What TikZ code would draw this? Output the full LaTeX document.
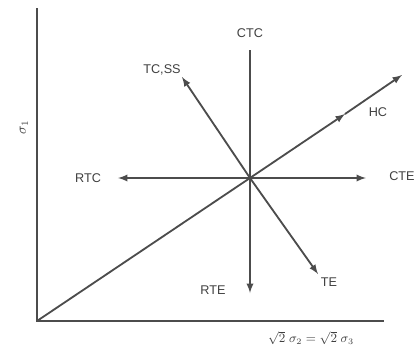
\documentclass[tikz,border=0pt]{standalone}
\usepackage{fontspec}
\setsansfont{Liberation Sans}
\usetikzlibrary{positioning}
\begin{document}
\begin{tikzpicture}[x=0.025cm, y=-0.025cm, >=latex,
    path/.style={draw=black!70, line width=1.3pt},
    lab/.style={font=\sffamily\small, text=black!75, inner sep=1pt}]
            \useasboundingbox (0,0) rectangle (417,350);
            % axes
            \coordinate (O) at (37,321);
            \coordinate (T) at (37,8);
            \coordinate (R) at (384,321);
            \draw[path] (T) -- (O) -- (R);
            \node[lab, font=\normalsize, rotate=90] (s1) at (24,127) {$\sigma_1$};
            \node[lab] (s23) at (311,338) {$\sqrt{2}\;\sigma_2 = \sqrt{2}\;\sigma_3$};

            % stress paths from the centre
            \coordinate (C) at (250,178);
            \coordinate (ctc) at (250,50);
            \coordinate (rte) at (250,293);
            \coordinate (rtc) at (118,178);
            \coordinate (cte) at (366,178);
            \coordinate (tcss) at (182,77);
            \coordinate (te) at (318,274);
            \coordinate (hcm) at (345,114);
            \coordinate (hc) at (402,75);
            \draw[path] (C) -- (ctc);
            \draw[path, ->] (C) -- (rte);
            \draw[path, ->] (C) -- (rtc);
            \draw[path, ->] (C) -- (cte);
            \draw[path, ->] (C) -- (tcss);
            \draw[path, ->] (C) -- (te);
            \draw[path] (O) -- (C);
            \draw[path, ->] (C) -- (hcm);
            \draw[path, ->] (hcm) -- (hc);

            \node[lab] (lctc) at (250,33) {CTC};
            \node[lab] (ltcss) at (162,70) {TC,SS};
            \node[lab] (lhc) at (378,112) {HC};
            \node[lab] (lrtc) at (88,178) {RTC};
            \node[lab] (lcte) at (402,176) {CTE};
            \node[lab] (lrte) at (213,290) {RTE};
            \node[lab] (lte) at (329,282) {TE};
        \end{tikzpicture}
\end{document}
